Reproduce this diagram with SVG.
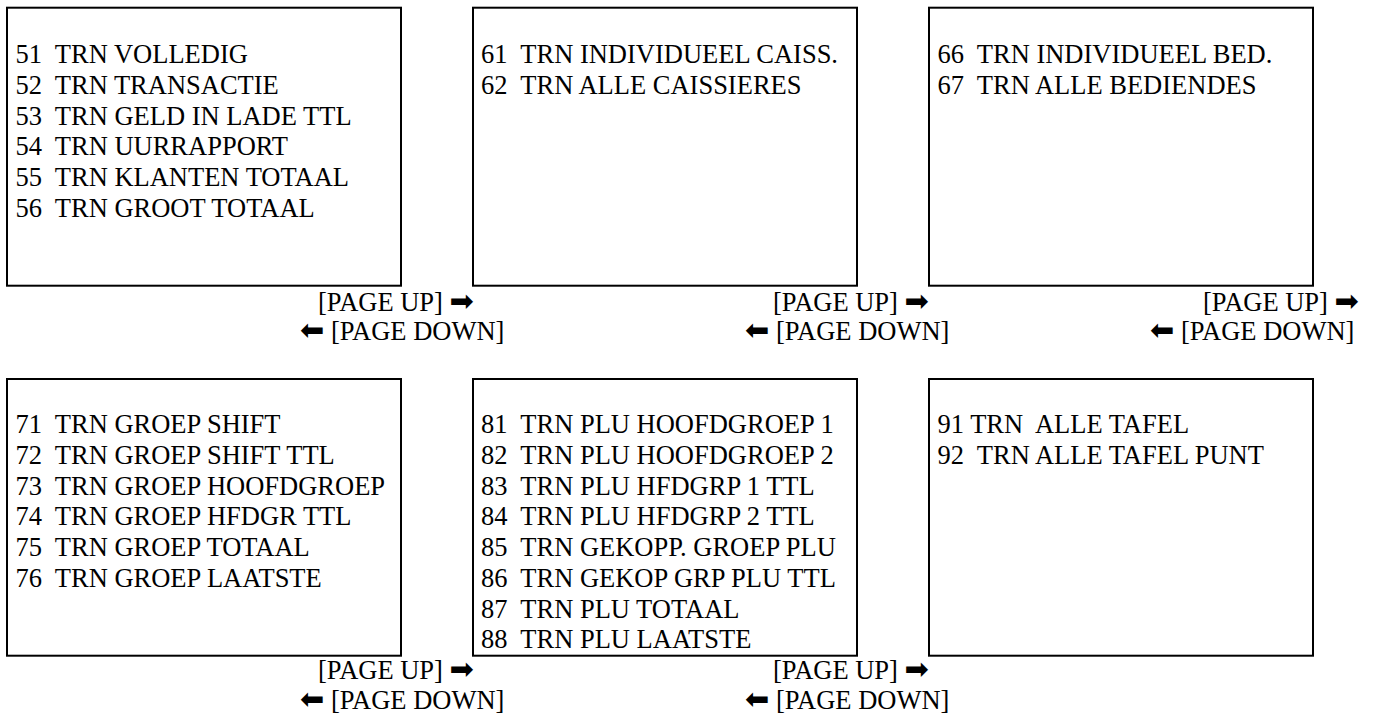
<svg xmlns="http://www.w3.org/2000/svg" width="1377" height="716" viewBox="0 0 1377 716">
<style>
  .box { fill: #ffffff; stroke: #000000; stroke-width: 2; }
  .t { font-family: "Liberation Serif", "Times New Roman", serif; font-size: 26.5px; fill: #000000; white-space: pre; }
  .ar { font-family: "DejaVu Sans", sans-serif; font-size: 29px; }
</style>
<rect x="0" y="0" width="1377" height="716" fill="#ffffff"/>
<g id="node-51">
  <rect class="box" x="7" y="7.7" width="394" height="278"/>
  <text class="t" x="15.5" y="63.3" xml:space="preserve">51  TRN VOLLEDIG</text>
  <text class="t" x="15.5" y="94" xml:space="preserve">52  TRN TRANSACTIE</text>
  <text class="t" x="15.5" y="124.7" xml:space="preserve">53  TRN GELD IN LADE TTL</text>
  <text class="t" x="15.5" y="155.4" xml:space="preserve">54  TRN UURRAPPORT</text>
  <text class="t" x="15.5" y="186.1" xml:space="preserve">55  TRN KLANTEN TOTAAL</text>
  <text class="t" x="15.5" y="216.8" xml:space="preserve">56  TRN GROOT TOTAAL</text>
</g>
<g id="node-61">
  <rect class="box" x="473" y="7.7" width="384" height="278"/>
  <text class="t" x="481" y="63.3" xml:space="preserve">61  TRN INDIVIDUEEL CAISS.</text>
  <text class="t" x="481" y="94" xml:space="preserve">62  TRN ALLE CAISSIERES</text>
</g>
<g id="node-66">
  <rect class="box" x="929" y="7.7" width="384" height="278"/>
  <text class="t" x="937.5" y="63.3" xml:space="preserve">66  TRN INDIVIDUEEL BED.</text>
  <text class="t" x="937.5" y="94" xml:space="preserve">67  TRN ALLE BEDIENDES</text>
</g>
<g id="node-71">
  <rect class="box" x="7" y="379" width="394" height="276.7"/>
  <text class="t" x="15.5" y="433.3" xml:space="preserve">71  TRN GROEP SHIFT</text>
  <text class="t" x="15.5" y="464" xml:space="preserve">72  TRN GROEP SHIFT TTL</text>
  <text class="t" x="15.5" y="494.7" xml:space="preserve">73  TRN GROEP HOOFDGROEP</text>
  <text class="t" x="15.5" y="525.4" xml:space="preserve">74  TRN GROEP HFDGR TTL</text>
  <text class="t" x="15.5" y="556.1" xml:space="preserve">75  TRN GROEP TOTAAL</text>
  <text class="t" x="15.5" y="586.8" xml:space="preserve">76  TRN GROEP LAATSTE</text>
</g>
<g id="node-81">
  <rect class="box" x="473" y="379" width="384" height="276.7"/>
  <text class="t" x="481" y="433.3" xml:space="preserve">81  TRN PLU HOOFDGROEP 1</text>
  <text class="t" x="481" y="464" xml:space="preserve">82  TRN PLU HOOFDGROEP 2</text>
  <text class="t" x="481" y="494.7" xml:space="preserve">83  TRN PLU HFDGRP 1 TTL</text>
  <text class="t" x="481" y="525.4" xml:space="preserve">84  TRN PLU HFDGRP 2 TTL</text>
  <text class="t" x="481" y="556.1" xml:space="preserve">85  TRN GEKOPP. GROEP PLU</text>
  <text class="t" x="481" y="586.8" xml:space="preserve">86  TRN GEKOP GRP PLU TTL</text>
  <text class="t" x="481" y="617.5" xml:space="preserve">87  TRN PLU TOTAAL</text>
  <text class="t" x="481" y="648.2" xml:space="preserve">88  TRN PLU LAATSTE</text>
</g>
<g id="node-91">
  <rect class="box" x="929" y="379" width="384" height="276.7"/>
  <text class="t" x="937.5" y="433.3" xml:space="preserve">91 TRN  ALLE TAFEL</text>
  <text class="t" x="937.5" y="464" xml:space="preserve">92  TRN ALLE TAFEL PUNT</text>
</g>
<g id="connectors">
  <text class="t" x="318" y="310.5" xml:space="preserve">[PAGE UP] <tspan class="ar">➡</tspan></text>
  <text class="t" x="300" y="340" xml:space="preserve"><tspan class="ar">⬅</tspan> [PAGE DOWN]</text>
  <text class="t" x="773" y="310.5" xml:space="preserve">[PAGE UP] <tspan class="ar">➡</tspan></text>
  <text class="t" x="745" y="340" xml:space="preserve"><tspan class="ar">⬅</tspan> [PAGE DOWN]</text>
  <text class="t" x="1203" y="310.5" xml:space="preserve">[PAGE UP] <tspan class="ar">➡</tspan></text>
  <text class="t" x="1150" y="340" xml:space="preserve"><tspan class="ar">⬅</tspan> [PAGE DOWN]</text>
  <text class="t" x="318" y="679" xml:space="preserve">[PAGE UP] <tspan class="ar">➡</tspan></text>
  <text class="t" x="300" y="708.5" xml:space="preserve"><tspan class="ar">⬅</tspan> [PAGE DOWN]</text>
  <text class="t" x="773" y="679" xml:space="preserve">[PAGE UP] <tspan class="ar">➡</tspan></text>
  <text class="t" x="745" y="708.5" xml:space="preserve"><tspan class="ar">⬅</tspan> [PAGE DOWN]</text>
</g>
</svg>
